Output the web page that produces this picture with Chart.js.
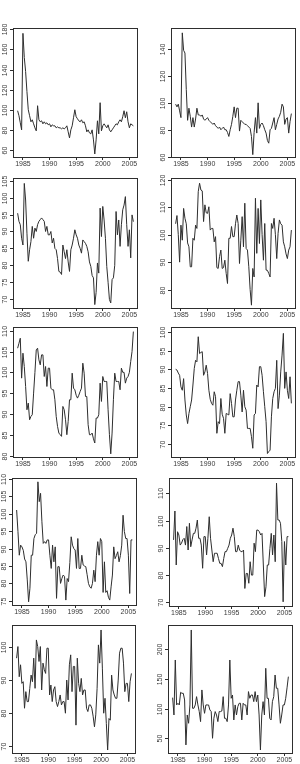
<!DOCTYPE html>
<html>
<head>
<meta charset="utf-8">
<script src="https://cdn.jsdelivr.net/npm/chart.js@4.4.1/dist/chart.umd.min.js"></script>
<style>
  html, body { margin: 0; padding: 0; background: #fff; }
  body { position: relative; width: 300px; height: 764px; overflow: hidden; }
  canvas { position: absolute; }
</style>
</head>
<body>
<script>
// quarterly series, 1984Q1 .. 2005Q4
var years = [1984, 1985, 1986, 1987, 1988, 1989, 1990, 1991, 1992, 1993, 1994,
             1995, 1996, 1997, 1998, 1999, 2000, 2001, 2002, 2003, 2004, 2005];
var quarters = [];
years.forEach(function(y) { quarters.push(y, y + 0.25, y + 0.5, y + 0.75); });

var xTicks = [1985, 1990, 1995, 2000, 2005];

var series1 = [99, 94, 87, 80, 176, 152, 138, 118, 100, 94, 88, 90, 86, 82, 79, 104,
  90, 88, 89, 86, 88, 86, 87, 85, 86, 83, 85, 84, 84, 82, 83, 82, 82, 81, 82, 81,
  82, 84, 78, 72, 80, 84, 92, 100, 93, 91, 89, 88, 90, 87, 88, 84, 78, 80, 77, 76,
  80, 70, 56, 70, 89, 76, 107, 79, 84, 86, 84, 82, 85, 80, 78, 80, 82, 84, 86, 85,
  88, 90, 88, 93, 99, 92, 98, 88, 82, 86, 85, 84];
var series2 = [99, 97, 99, 94, 89, 152, 139, 137, 110, 87, 96, 90, 82, 89, 82, 88,
  96, 91, 91, 90, 91, 88, 87, 88, 89, 87, 86, 85, 84, 85, 83, 82, 81, 82, 80, 81,
  82, 80, 80, 78, 75, 80, 84, 90, 97, 89, 96, 96, 79, 87, 86, 85, 84, 84, 83, 82,
  81, 75, 61.5, 78, 89, 77.5, 100, 81, 84, 85, 83, 80, 77.5, 72, 70, 80, 81, 85, 89, 80,
  84, 88, 90, 93, 99, 97, 84, 88, 89, 77.5, 86, 92];
var series3 = [95.4, 93, 92, 88, 86, 104.2, 99.3, 89.5, 81.2, 84.6, 87, 91.5, 88, 91, 90, 92,
  93, 93.5, 94, 93.5, 93, 90, 91.5, 89, 89, 90, 86.6, 88, 85, 84.6, 82, 78.2,
  78, 77.3, 86, 84, 82, 84.6, 81, 78.2, 84.6, 86, 88, 90.5, 89, 88, 86, 85,
  83.6, 87.5, 87, 86.5, 85.6, 84, 81, 79.7, 77, 76.3, 68.4, 72, 80.7, 77.7, 96.9, 88.5,
  97.4, 93.4, 88, 79.7, 75, 69.9, 68.9, 75.8, 76.3, 80, 95.9, 89, 93.4, 85.6, 92, 96.4,
  97.8, 100.3, 92, 85.6, 90.5, 82.2, 94.9, 92.9];
var series4 = [104, 107, 100, 90, 103.5, 98, 109.6, 106, 104, 97, 95.6, 88.3, 88.3, 98.7, 98, 103.5,
  102.3, 115.7, 118.8, 116.3, 116, 104.8, 110.9, 108, 107.8, 110.2, 101.7, 102.3, 102.3, 97.4, 99.3, 88,
  87.7, 92, 94.4, 87.7, 88, 90.7, 85.9, 82.2, 98.7, 98.7, 103, 99.3, 99.3, 104, 107.2, 104.1,
  89.5, 98, 106.6, 95.6, 111.5, 95, 94.4, 88.3, 80, 74.3, 87.7, 84.6, 113.3, 93.2, 109.6, 96.8,
  112.7, 100, 90.7, 104.1, 87.1, 87, 85.9, 84.6, 104.1, 102.3, 106, 100, 91.3, 100.5, 105.4, 104,
  103.5, 97.4, 95.6, 93, 91.3, 94.4, 95.6, 101.7];
var series5 = [105.8, 107, 108.2, 98.6, 104.6, 101.4, 96.6, 91, 92.6, 88.6, 89.4, 89.8, 95, 100, 105.4, 105.8,
  103, 101.8, 104.2, 104.2, 99, 101.4, 96.6, 101, 101, 96.2, 95.8, 95.8, 93.4, 89.4, 87, 85.4,
  85, 84.6, 91.8, 91, 88.6, 85, 88.2, 93.4, 93.4, 99.8, 96.2, 95.8, 94.5, 93.8, 94.5, 95.4,
  96.2, 102.2, 99.8, 94.2, 94.2, 87.4, 85, 85, 85.4, 84, 83, 89, 89, 89.8, 97.4, 93,
  99, 97.8, 97.8, 97.8, 91, 85, 80.4, 85.4, 93.4, 99.8, 97.8, 97.8, 97.8, 95.8, 101, 100,
  100, 97.4, 98.6, 99, 100, 102.6, 105, 109.8];
var series6 = [90, 89.8, 89, 88.4, 85.3, 84.4, 87.5, 81.8, 77.8, 75.5, 78.2, 80, 81.8, 85.8, 90.2, 92.4,
  92, 98.7, 94.2, 94.5, 94.7, 88.4, 89.3, 91.1, 88.9, 84.4, 82, 80.9, 80.4, 84, 82.7, 72.9,
  76, 75.5, 82.2, 78, 76.9, 72.9, 78.2, 78, 77.8, 83.5, 80.9, 77.3, 77.3, 81.8, 84.4, 86.7,
  86.7, 83.1, 78.6, 84.4, 80, 79.1, 74.2, 74.2, 74.2, 72, 68.9, 77.8, 78.2, 85.8, 85.3, 90.7,
  90.7, 88.4, 84, 80, 76, 67.5, 68, 68.4, 77.3, 82.2, 84, 84.9, 92.4, 79.5, 83.1, 89.3,
  93.8, 99.6, 84.9, 89.3, 84.4, 82.2, 88, 80.9];
var series7 = [101.1, 94.9, 88.1, 91, 90.5, 89.5, 87, 86.2, 81, 74.7, 78.6, 88.1, 88.1, 92.9, 94, 94.4,
  109.2, 103.5, 105.9, 97.7, 91.5, 92, 91.5, 92.5, 92.5, 88.1, 84.3, 91, 86.2, 90.5, 75.7, 84.8,
  84.8, 80, 81.4, 82.4, 82, 75.2, 81.4, 80.5, 86, 93.4, 91, 90, 89.6, 84.3, 92.9, 84.3,
  84.3, 88.1, 85.3, 85, 84.8, 82.5, 80, 79, 78.6, 80, 83.8, 80.5, 88.1, 92, 88.1, 92.9,
  92, 77.4, 86.2, 77.4, 77.9, 76, 75.2, 79, 82.4, 90.5, 87.1, 88, 89.1, 86.2, 88, 91,
  99.6, 94.9, 92.9, 92.9, 88.1, 77.1, 92.5, 92.5];
var series8 = [92.9, 103.5, 83.7, 95.9, 94.7, 91, 91.7, 93, 93.5, 91, 97.8, 89.2, 99, 90.4, 92.9, 95.3,
  95.3, 97.2, 100.2, 93.5, 93.5, 91, 82.5, 94.1, 94.1, 87.4, 93.5, 101.4, 93.5, 89.2, 84.9, 88,
  88, 88, 86.1, 84.3, 84.3, 83.1, 86.1, 88.6, 88.6, 89.8, 91, 93.5, 94.7, 97.2, 94.1, 88.6,
  88.6, 91, 89.2, 88.6, 88.6, 89.2, 75.1, 80.6, 80.6, 77, 84.9, 80, 80, 91.7, 88.6, 96.5,
  96.5, 95.9, 94.7, 95.3, 83.7, 72.1, 75.7, 83.7, 83.7, 89.8, 95.3, 87.4, 94.7, 84.9, 113.7, 100.2,
  100.2, 99, 92.3, 70.2, 92.3, 83.7, 94.1, 94.1];
var series9 = [96.5, 100, 90.9, 94.5, 88.9, 89.4, 81.4, 86.4, 83.4, 83.4, 87.4, 91.4, 89.4, 96.5, 87.4, 102,
  100, 95.5, 100, 86.9, 95, 93, 91.9, 99.5, 99.5, 85.4, 88.4, 83.4, 86.9, 87.9, 83.4, 81.9,
  83.4, 85.4, 82.4, 83.4, 83.4, 79.9, 89.9, 83.9, 94.5, 97.5, 86.4, 94, 94, 76.3, 96.5, 88.9,
  86.4, 90.4, 85.4, 86.9, 86.9, 81.4, 80.4, 82.4, 82.4, 81.4, 79, 75.8, 79.4, 87.4, 100.5, 95,
  105, 93.5, 79.9, 84.4, 76.8, 68.8, 78.3, 77.8, 91.4, 86.9, 85.4, 84.4, 84.4, 89.9, 98, 99.5,
  99.5, 95, 86.4, 88.9, 88.9, 83.4, 89.4, 91.9];
var series10 = [118.5, 89.3, 182, 106.2, 109, 106.2, 127.5, 125.8, 125.8, 114.6, 38.8, 89.3, 75.3, 106.2, 232.6, 100.6,
  100.6, 106.2, 120.2, 106.2, 95, 78.1, 131.5, 106.2, 92.1, 106.2, 106.2, 106.2, 97.8, 95, 50, 83.7,
  95, 89.3, 78.1, 95, 95, 96, 120.2, 83.7, 83.7, 78.1, 106.2, 182, 117.4, 123, 80.9, 106.2,
  89.3, 103.4, 109, 109, 80.9, 109, 106.2, 106.2, 89.3, 128.7, 117.4, 123, 123, 111.8, 128.7, 111.8,
  123, 89.3, 30.3, 89.3, 111.8, 89.3, 168, 117.4, 117.4, 83.7, 80.9, 111.8, 120.2, 156.7, 134.3, 134.3,
  106.2, 75.3, 89.3, 106.2, 106.2, 117.4, 135, 153.9];

var yTicks1 = [60, 80, 100, 120, 140, 160, 180];
var yTicks2 = [60, 80, 100, 120, 140];
var yTicks3 = [70, 75, 80, 85, 90, 95, 100, 105];
var yTicks4 = [80, 90, 100, 110, 120];
var yTicks5 = [80, 85, 90, 95, 100, 105, 110];
var yTicks6 = [70, 75, 80, 85, 90, 95, 100];
var yTicks7 = [75, 80, 85, 90, 95, 100, 105, 110];
var yTicks8 = [70, 80, 90, 100, 110];
var yTicks9 = [70, 80, 90, 100];
var yTicks10 = [50, 100, 150, 200];

// plot boxes [left, top, right, bottom] and y ranges
var panels = [
  {values: series1,  ticks: yTicks1,  box: [13, 28, 138, 158],  y: [52, 181.3]},
  {values: series2,  ticks: yTicks2,  box: [171, 28, 296, 158], y: [59, 155.6]},
  {values: series3,  ticks: yTicks3,  box: [13, 178, 138, 309], y: [67.1, 105.8]},
  {values: series4,  ticks: yTicks4,  box: [171, 178, 296, 309], y: [72.9, 120.7]},
  {values: series5,  ticks: yTicks5,  box: [13, 327, 138, 458], y: [79.4, 110.9]},
  {values: series6,  ticks: yTicks6,  box: [171, 327, 296, 458], y: [66.3, 101.3]},
  {values: series7,  ticks: yTicks7,  box: [12, 478, 137, 606], y: [73.5, 110.3]},
  {values: series8,  ticks: yTicks8,  box: [169, 478, 293, 607], y: [68.3, 115.6]},
  {values: series9,  ticks: yTicks9,  box: [12, 625, 136, 754], y: [67.6, 106.5]},
  {values: series10, ticks: yTicks10, box: [168, 625, 293, 754], y: [23.5, 241]}
];

var X_MIN = 1983.13, X_MAX = 2006.62;
var PAD_L = 15, PAD_R = 3, PAD_T = 9, PAD_B = 12;
var INK = '#2e2e2e';
var FONT = "'Liberation Sans', Arial, sans-serif";

function makePanel(p) {
  var w = p.box[2] - p.box[0] + PAD_L + PAD_R;
  var h = p.box[3] - p.box[1] + PAD_T + PAD_B;
  var c = document.createElement('canvas');
  c.width = w; c.height = h;
  c.style.left = (p.box[0] - PAD_L) + 'px';
  c.style.top = (p.box[1] - PAD_T) + 'px';
  c.style.width = w + 'px';
  c.style.height = h + 'px';
  document.body.appendChild(c);

  // frame, y tick marks and rotated y labels (R style)
  var frame = {
    id: 'frame',
    afterDraw: function(chart) {
      var ctx = chart.ctx, a = chart.chartArea, ys = chart.scales.y;
      ctx.save();
      ctx.strokeStyle = INK;
      ctx.lineWidth = 1;
      ctx.strokeRect(Math.round(a.left) + 0.5, Math.round(a.top) + 0.5,
                     Math.round(a.right - a.left) - 1, Math.round(a.bottom - a.top) - 1);
      ctx.fillStyle = '#3a3a3a';
      ctx.font = '7px ' + FONT;
      ctx.textAlign = 'center';
      ctx.textBaseline = 'middle';
      p.ticks.forEach(function(v) {
        var py = Math.round(ys.getPixelForValue(v)) + 0.5;
        ctx.beginPath();
        ctx.moveTo(a.left, py);
        ctx.lineTo(a.left - 3, py);
        ctx.stroke();
        ctx.save();
        ctx.translate(a.left - 8, py);
        ctx.rotate(-Math.PI / 2);
        ctx.fillText(String(v), 0, 0);
        ctx.restore();
      });
      ctx.restore();
    }
  };

  new Chart(c, {
    type: 'line',
    data: {
      datasets: [{
        data: quarters.map(function(q, i) { return {x: q, y: p.values[i]}; }),
        borderColor: INK,
        borderWidth: 1,
        pointRadius: 0,
        tension: 0,
        fill: false
      }]
    },
    options: {
      responsive: false,
      animation: false,
      devicePixelRatio: 1,
      layout: {padding: {left: 0, top: PAD_T, right: PAD_R, bottom: 0}},
      plugins: {legend: {display: false}, tooltip: {enabled: false}},
      scales: {
        x: {
          type: 'linear',
          min: X_MIN,
          max: X_MAX,
          afterBuildTicks: function(s) { s.ticks = xTicks.map(function(v) { return {value: v}; }); },
          afterFit: function(s) { s.height = PAD_B; },
          ticks: {
            autoSkip: false, maxRotation: 0, padding: 0, color: '#3a3a3a',
            font: {family: FONT, size: 7},
            callback: function(v) { return String(v); }
          },
          grid: {drawOnChartArea: false, tickLength: 2, color: INK},
          border: {display: false}
        },
        y: {
          min: p.y[0],
          max: p.y[1],
          afterBuildTicks: function(s) { s.ticks = p.ticks.map(function(v) { return {value: v}; }); },
          afterFit: function(s) { s.width = PAD_L; },
          ticks: {display: false},
          grid: {display: false},
          border: {display: false}
        }
      }
    },
    plugins: [frame]
  });
}

panels.forEach(makePanel);
</script>
</body>
</html>
